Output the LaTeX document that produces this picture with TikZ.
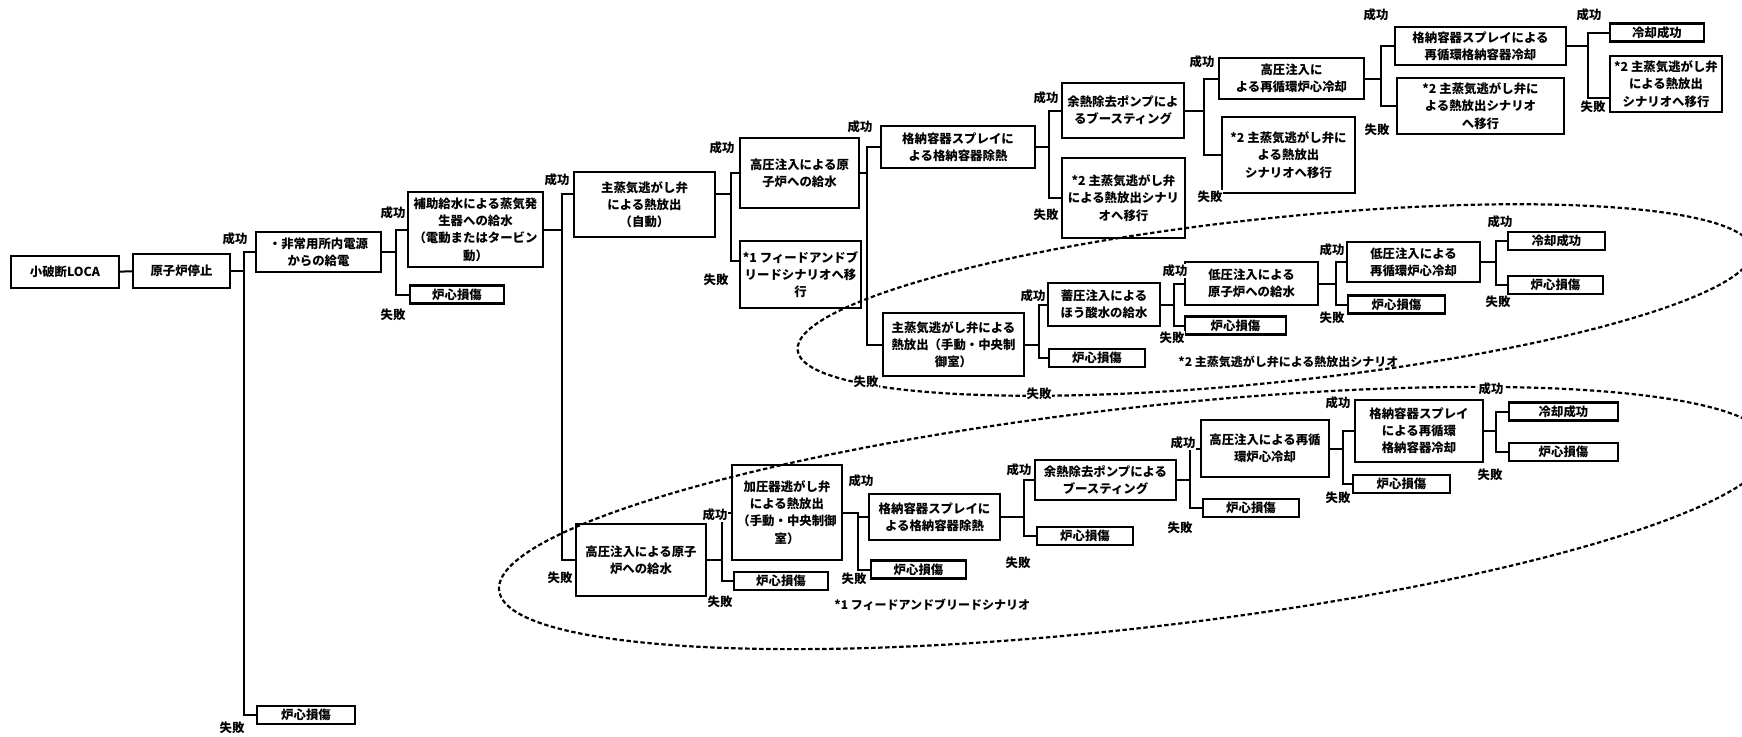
\documentclass[tikz,border=0pt]{standalone}
\usepackage{fontspec}
\setmainfont{Noto Sans CJK JP}
\tikzset{
    evbox/.style 2 args={
        rectangle,
        draw=black,
        line width=1.1pt,
        align=center,
        inner sep=0.5pt,
        minimum width=#1*0.5pt,
        minimum height=#2*0.5pt,
        font=\fontsize{6.2}{8.6}\selectfont\bfseries
    },
    endbox/.style={evbox={#1}{18}},
    lbl/.style={font=\fontsize{6.2}{7}\selectfont\bfseries, inner sep=0.5pt, fill=white},
    note/.style={font=\fontsize{6}{7}\selectfont\bfseries, inner sep=0pt, anchor=west},
    tline/.style={line width=1pt, draw=black},
    ovalline/.style={line width=1.1pt, dash pattern=on 2.2pt off 1.3pt}
}

\begin{document}
\begin{tikzpicture}[x=0.5pt,y=-0.5pt]
    \path[use as bounding box, fill=white] (0,0) rectangle (1742,736);

    % dashed groupings
    \draw[ovalline, rotate around={6:(1275,300)}] (1275,300) ellipse [x radius=480, y radius=82];
    \draw[ovalline, rotate around={6.5:(1135,518)}] (1135,518) ellipse [x radius=640, y radius=110];

    % upper sequence
    \node[evbox={108}{32}] (loca) at (65,272) {小破断LOCA};
    \node[evbox={97}{34}] (scram) at (181.5,271) {原子炉停止};
    \node[evbox={125}{40}] (power) at (318.5,252) {・非常用所内電源\\からの給電};
    \node[endbox=98] (cd0) at (306,715) {炉心損傷};
    \node[evbox={135}{75}] (afw) at (475.5,229.5) {補助給水による蒸気発\\生器への給水\\（電動またはタービン\\動）};
    \node[endbox=94] (cd1) at (457,294.5) {炉心損傷};
    \node[evbox={141}{65}] (msa) at (644.5,204.5) {主蒸気逃がし弁\\による熱放出\\（自動）};
    \node[evbox={119}{70}] (hpi1) at (799.5,173) {高圧注入による原\\子炉への給水};
    \node[evbox={121}{67}] (ffb1) at (800.5,274.5) {*1 フィードアンドブ\\リードシナリオへ移\\行};
    \node[evbox={154}{42}] (cs1) at (958,147) {格納容器スプレイに\\よる格納容器除熱};
    \node[evbox={122}{55}] (rhr1) at (1123,110.5) {余熱除去ポンプによ\\るブースティング};
    \node[evbox={123}{80}] (ms2a) at (1123.5,198) {*2 主蒸気逃がし弁\\による熱放出シナリ\\オへ移行};
    \node[evbox={145}{41}] (hpr1) at (1291.5,78.5) {高圧注入に\\よる再循環炉心冷却};
    \node[evbox={133}{76}] (ms2b) at (1288.5,155) {*2 主蒸気逃がし弁に\\よる熱放出\\シナリオへ移行};
    \node[evbox={171}{38}] (csr1) at (1480.5,46) {格納容器スプレイによる\\再循環格納容器冷却};
    \node[evbox={167}{56}] (ms2c) at (1480.5,106) {*2 主蒸気逃がし弁に\\よる熱放出シナリオ\\へ移行};
    \node[endbox=94] (ok1) at (1657,32.5) {冷却成功};
    \node[evbox={112}{56}] (ms2d) at (1666,84) {*2 主蒸気逃がし弁\\による熱放出\\シナリオへ移行};

    % *2 scenario
    \node[evbox={141}{63}] (msm) at (953.5,344.5) {主蒸気逃がし弁による\\熱放出（手動・中央制\\御室）};
    \node[endbox=96] (cd2) at (1097,358) {炉心損傷};
    \node[evbox={112}{43}] (acc) at (1104,304.5) {蓄圧注入による\\ほう酸水の給水};
    \node[evbox={133}{43}] (lpi) at (1251.5,283.5) {低圧注入による\\原子炉への給水};
    \node[endbox=101] (cd3) at (1235.5,325.5) {炉心損傷};
    \node[evbox={133}{40}] (lpr) at (1413.5,262) {低圧注入による\\再循環炉心冷却};
    \node[endbox=97] (cd4) at (1396.5,304.5) {炉心損傷};
    \node[endbox=97] (ok2) at (1556.5,241) {冷却成功};
    \node[endbox=95] (cd5) at (1555.5,285) {炉心損傷};
    \node[note] (note2) at (1178,362) {*2 主蒸気逃がし弁による熱放出シナリオ};

    % *1 scenario
    \node[evbox={130}{72}] (hpi2) at (641,560) {高圧注入による原子\\炉への給水};
    \node[evbox={110}{95}] (pzr) at (787,512.5) {加圧器逃がし弁\\による熱放出\\（手動・中央制御\\室）};
    \node[endbox=94] (cd6) at (781,581) {炉心損傷};
    \node[evbox={131}{46}] (cs2) at (934.5,517) {格納容器スプレイに\\よる格納容器除熱};
    \node[endbox=95] (cd7) at (918.5,569.5) {炉心損傷};
    \node[evbox={141}{40}] (rhr2) at (1105.5,480) {余熱除去ポンプによる\\ブースティング};
    \node[endbox=96] (cd8) at (1085,536) {炉心損傷};
    \node[evbox={128}{57}] (hpr2) at (1265,448.5) {高圧注入による再循\\環炉心冷却};
    \node[endbox=96] (cd9) at (1251,508) {炉心損傷};
    \node[evbox={128}{62}] (csr2) at (1419,431) {格納容器スプレイ\\による再循環\\格納容器冷却};
    \node[endbox=97] (cd10) at (1401.5,484) {炉心損傷};
    \node[endbox=109] (ok3) at (1563.5,411.5) {冷却成功};
    \node[endbox=109] (cd11) at (1563.5,452) {炉心損傷};
    \node[note] (note1) at (834,605) {*1 フィードアンドブリードシナリオ};

    % branches
    \draw[tline] (loca) -- (scram);
    \draw[tline] (scram.east) -- ++(13,0) coordinate (j0) |- (power.west);
    \draw[tline] (j0) |- (cd0.west);
    \draw[tline] (power.east) -- ++(14,0) coordinate (j1) |- (afw.west);
    \draw[tline] (j1) |- (cd1.west);
    \draw[tline] (afw.east) -- ++(18,0) coordinate (j2) |- ([yshift=5.5pt]msa.west);
    \draw[tline] (j2) |- (hpi2.west);
    \draw[tline] ([yshift=5.5pt]msa.east) -- ++(15,0) coordinate (j3) |- (hpi1.west);
    \draw[tline] (j3) |- ([yshift=7pt]ffb1.west);
    \draw[tline] (hpi1.east) -- ++(7,0) coordinate (j4) |- (cs1.west);
    \draw[tline] (j4) |- (msm.west);
    \draw[tline] (cs1.east) -- ++(13,0) coordinate (j5) |- (rhr1.west);
    \draw[tline] (j5) |- (ms2a.west);
    \draw[tline] (rhr1.east) -- ++(19,0) coordinate (j6) |- (hpr1.west);
    \draw[tline] (j6) |- (ms2b.west);
    \draw[tline] (hpr1.east) -- ++(16,0) coordinate (j7) |- (csr1.west);
    \draw[tline] (j7) |- (ms2c.west);
    \draw[tline] (csr1.east) -- ++(21,0) coordinate (j8) |- (ok1.west);
    \draw[tline] (j8) |- ([yshift=-7pt]ms2d.west);
    \draw[tline] (msm.east) -- ++(14,0) coordinate (j9) |- (acc.west);
    \draw[tline] (j9) |- (cd2.west);
    \draw[tline] (acc.east) -- ++(13,0) coordinate (j10) |- (lpi.west);
    \draw[tline] (j10) |- (cd3.west);
    \draw[tline] (lpi.east) -- ++(17,0) coordinate (j11) |- (lpr.west);
    \draw[tline] (j11) |- (cd4.west);
    \draw[tline] (lpr.east) -- ++(15,0) coordinate (j12) |- (ok2.west);
    \draw[tline] (j12) |- (cd5.west);
    \draw[tline] (hpi2.east) -- ++(15,0) coordinate (j13) |- (pzr.west);
    \draw[tline] (j13) |- (cd6.west);
    \draw[tline] (pzr.east) -- ++(15,0) coordinate (j14) |- (cs2.west);
    \draw[tline] (j14) |- (cd7.west);
    \draw[tline] (cs2.east) -- ++(23,0) coordinate (j15) |- (rhr2.west);
    \draw[tline] (j15) |- (cd8.west);
    \draw[tline] (rhr2.east) -- ++(13,0) coordinate (j16) |- (hpr2.west);
    \draw[tline] (j16) |- (cd9.west);
    \draw[tline] (hpr2.east) -- ++(13,0) coordinate (j17) |- (csr2.west);
    \draw[tline] (j17) |- (cd10.west);
    \draw[tline] (csr2.east) -- ++(12,0) coordinate (j18) |- (ok3.west);
    \draw[tline] (j18) |- (cd11.west);

    % success / failure labels
    \node[lbl] (s0) at (235,239) {成功};
    \node[lbl] (f0) at (232,728) {失敗};
    \node[lbl] (s1) at (393,213) {成功};
    \node[lbl] (f1) at (393,315) {失敗};
    \node[lbl] (s2) at (557,180) {成功};
    \node[lbl] (f2) at (560,578) {失敗};
    \node[lbl] (s3) at (722,148) {成功};
    \node[lbl] (f3) at (716,280) {失敗};
    \node[lbl] (s4) at (860,127) {成功};
    \node[lbl] (f4) at (866,382) {失敗};
    \node[lbl] (s5) at (1046,98) {成功};
    \node[lbl] (f5) at (1046,215) {失敗};
    \node[lbl] (s6) at (1202,62) {成功};
    \node[lbl] (f6) at (1210,197) {失敗};
    \node[lbl] (s7) at (1376,15) {成功};
    \node[lbl] (f7) at (1377,130) {失敗};
    \node[lbl] (s8) at (1589,15) {成功};
    \node[lbl] (f8) at (1593,107) {失敗};
    \node[lbl] (s9) at (1033,296) {成功};
    \node[lbl] (f9) at (1039,394) {失敗};
    \node[lbl] (s10) at (1175,271) {成功};
    \node[lbl] (f10) at (1172,338) {失敗};
    \node[lbl] (s11) at (1332,250) {成功};
    \node[lbl] (f11) at (1332,318) {失敗};
    \node[lbl] (s12) at (1500,222) {成功};
    \node[lbl] (f12) at (1498,302) {失敗};
    \node[lbl] (s13) at (715,515) {成功};
    \node[lbl] (f13) at (720,602) {失敗};
    \node[lbl] (s14) at (861,481) {成功};
    \node[lbl] (f14) at (854,579) {失敗};
    \node[lbl] (s15) at (1019,470) {成功};
    \node[lbl] (f15) at (1018,563) {失敗};
    \node[lbl] (s16) at (1183,443) {成功};
    \node[lbl] (f16) at (1180,528) {失敗};
    \node[lbl] (s17) at (1338,403) {成功};
    \node[lbl] (f17) at (1338,498) {失敗};
    \node[lbl] (s18) at (1491,389) {成功};
    \node[lbl] (f18) at (1490,475) {失敗};
\end{tikzpicture}
\end{document}
